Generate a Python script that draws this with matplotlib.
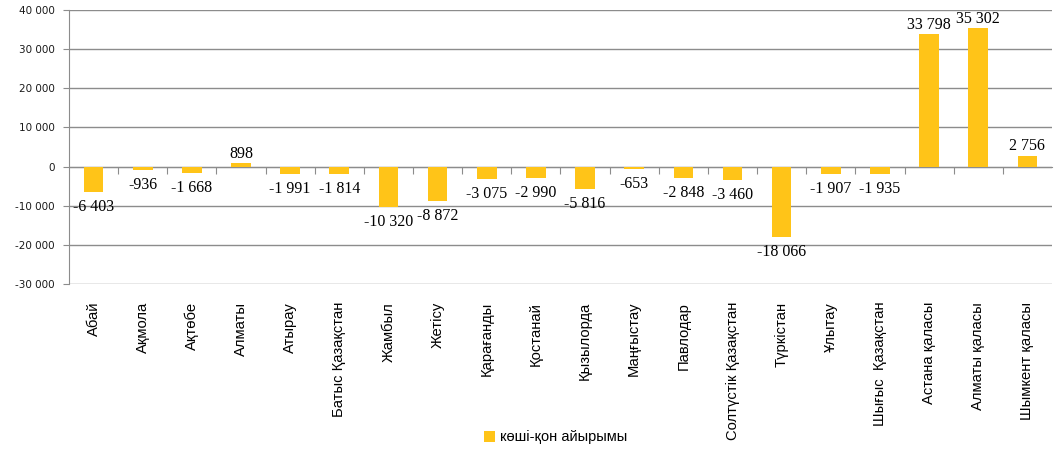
import matplotlib
matplotlib.use("Agg")
import matplotlib.pyplot as plt
import matplotlib.transforms as mtransforms
from matplotlib.patches import Patch

categories = ["Абай", "Ақмола", "Ақтөбе", "Алматы", "Атырау", "Батыс Қазақстан",
              "Жамбыл", "Жетісу", "Қарағанды", "Қостанай", "Қызылорда", "Маңғыстау",
              "Павлодар", "Солтүстік Қазақстан", "Түркістан", "Ұлытау",
              "Шығыс  Қазақстан", "Астана қаласы", "Алматы қаласы", "Шымкент қаласы"]
values = [-6403, -936, -1668, 898, -1991, -1814, -10320, -8872, -3075, -2990,
          -5816, -653, -2848, -3460, -18066, -1907, -1935, 33798, 35302, 2756]
yticks = [-30000, -20000, -10000, 0, 10000, 20000, 30000, 40000]
series_name = "көші-қон айырымы"

bar_color = "#FFC418"
grid_color = "#8C8C8C"

def fmt(v):
    s = f"{abs(v):,}".replace(",", " ")
    return ("-" if v < 0 else "") + s

fig = plt.figure(figsize=(10.56, 4.57), dpi=100)
ax = fig.add_axes([0.0653, 0.3786, 0.9309, 0.5995])

x = list(range(len(categories)))
ax.bar(x, values, width=0.4, color=bar_color, zorder=3)

ax.set_xlim(-0.5, len(categories) - 0.5)
ax.set_ylim(-30000, 40000)
ax.set_yticks(yticks)
ax.set_yticklabels([fmt(v) for v in yticks], fontsize=7.5, color="#1a1a1a",
                   family="DejaVu Sans")
for v in yticks:
    ax.axhline(v, color=grid_color, lw=1, zorder=1)

for s in ["top", "right"]:
    ax.spines[s].set_visible(False)
ax.spines["left"].set_color(grid_color)
ax.spines["bottom"].set_position(("data", 0))
ax.spines["bottom"].set_color(grid_color)
ax.tick_params(axis="y", length=4, color=grid_color, pad=6)
ax.set_xticks([i + 0.5 for i in range(len(categories) - 1)])
ax.set_xticklabels([])
ax.tick_params(axis="x", length=5, color=grid_color, direction="out")

trans = mtransforms.blended_transform_factory(ax.transData, ax.transAxes)
for i, c in enumerate(categories):
    ax.text(i, -0.065, c, transform=trans, rotation=90, ha="center", va="top",
            fontsize=10.6, family=["Liberation Sans Narrow", "Liberation Sans", "DejaVu Sans"],
            color="#000000")

for i, v in enumerate(values):
    if v >= 0:
        ax.annotate(fmt(v), (i, v), xytext=(0, 1), textcoords="offset points",
                    ha="center", va="bottom", fontsize=11.5,
                    family=["Liberation Serif", "DejaVu Serif"], zorder=4)
    else:
        ax.annotate(fmt(v), (i, v), xytext=(0, -5), textcoords="offset points",
                    ha="center", va="top", fontsize=11.5,
                    family=["Liberation Serif", "DejaVu Serif"], zorder=4)

handle = Patch(facecolor=bar_color, edgecolor="none")
fig.legend([handle], [series_name], loc="center", bbox_to_anchor=(0.526, 0.043),
           frameon=False, handlelength=0.8, handleheight=0.8,
           handletextpad=0.3,
           prop={"family": ["Liberation Sans", "DejaVu Sans"], "size": 10.5})

fig.savefig("out.png", dpi=100)
